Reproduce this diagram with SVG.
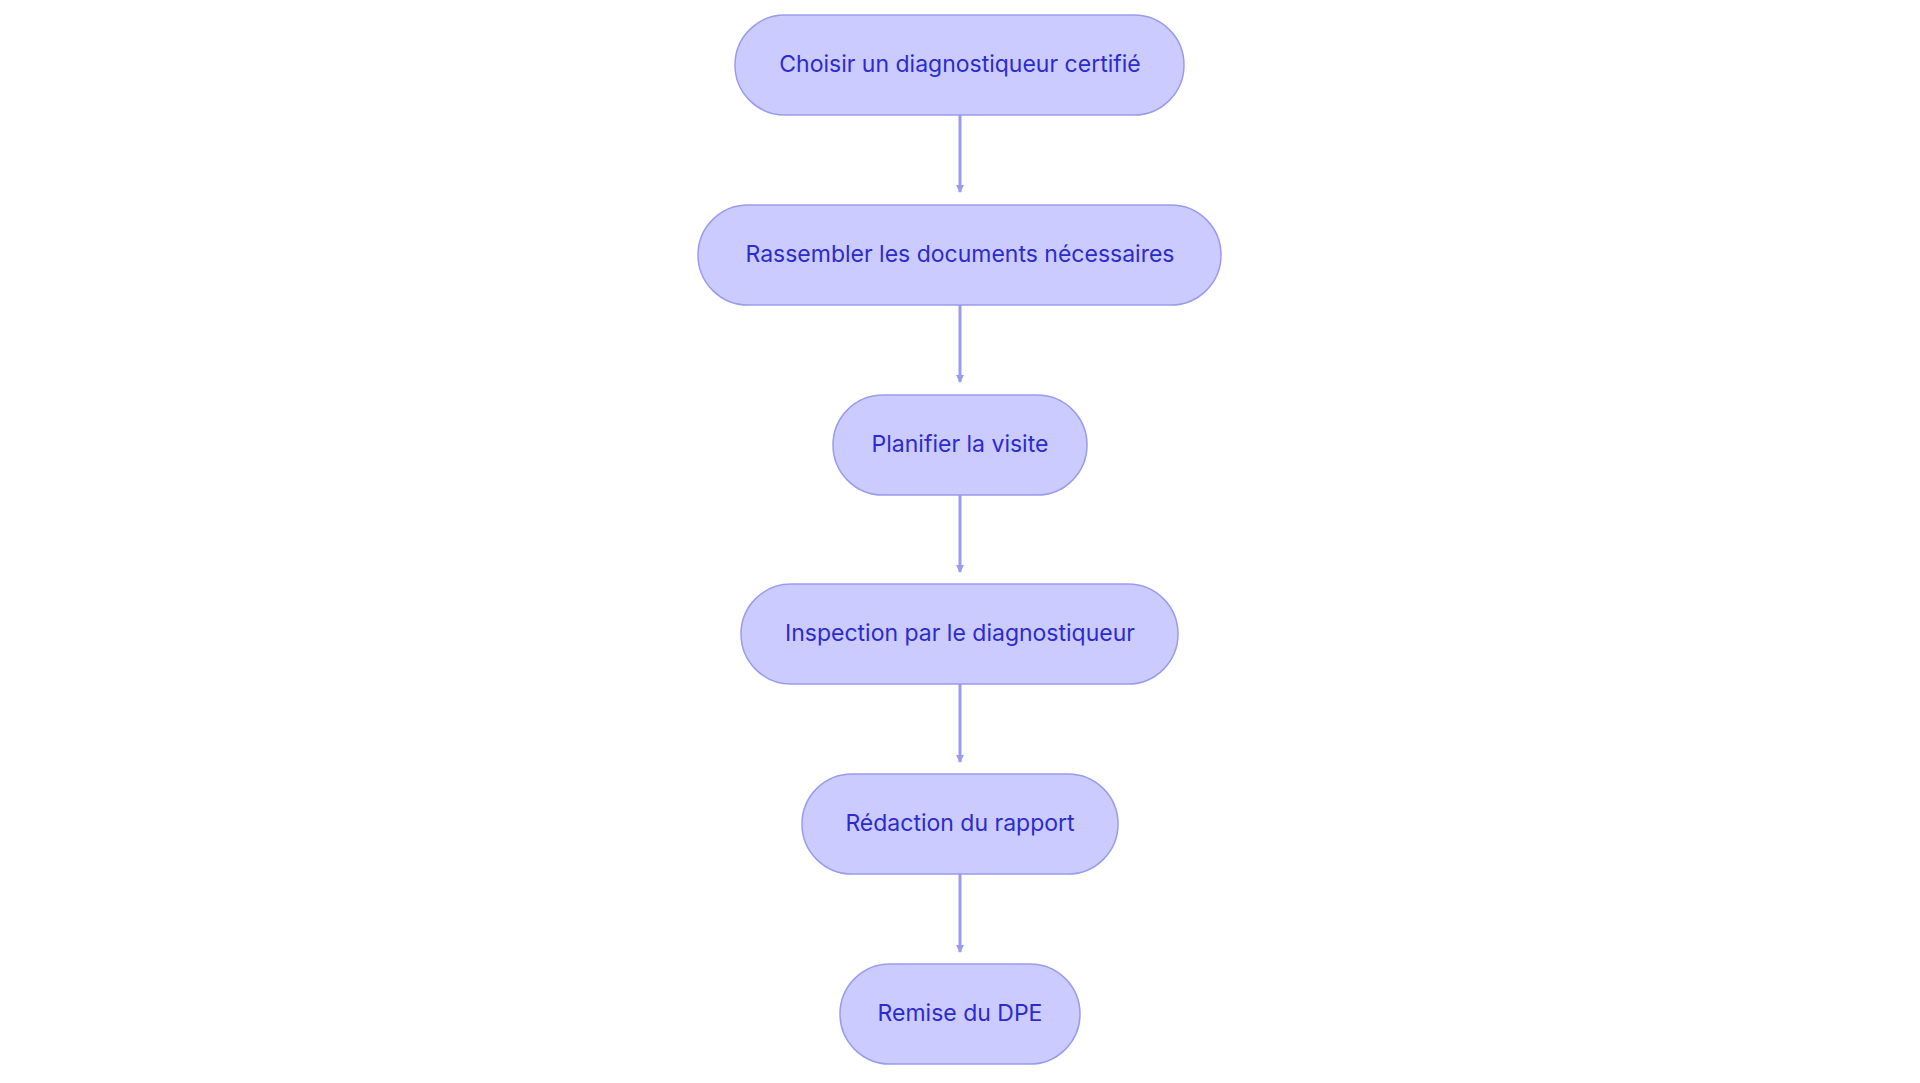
<svg xmlns="http://www.w3.org/2000/svg" width="1920" height="1083" viewBox="0 0 1920 1083">
<style>
.n rect{fill:#cbcbff;stroke:#9b9bee;stroke-width:1.5}
.n text{font-family:Inter,"Noto Sans",sans-serif;font-size:23px;fill:#2b2bcf;text-anchor:middle;dominant-baseline:central}
.e line{stroke:#9b9bee;stroke-width:3;marker-end:url(#a)}
</style>
<defs><marker id="a" markerWidth="8" markerHeight="8" refX="7" refY="4" orient="auto" markerUnits="userSpaceOnUse" viewBox="0 0 8 8"><path d="M0,0L8,4L0,8z" fill="#9b9bee"/></marker></defs>
<rect width="1920" height="1083" fill="#fff"/>
<g class="e">
<line x1="960" y1="115" x2="960" y2="192" transform=""/>
</g>
<g class="e">
<path d="M0 0"/>
</g>
<g id="edges">
<g class="e">
<line x1="960" y1="305" x2="960" y2="382"/>
<line x1="960" y1="495" x2="960" y2="572"/>
<line x1="960" y1="684" x2="960" y2="762"/>
<line x1="960" y1="874" x2="960" y2="952"/>
</g>
</g>
<g id="n1" class="n"><rect x="735" y="15" width="449" height="100" rx="50"/><text x="960" y="64">Choisir un diagnostiqueur certifié</text></g>
<g id="n2" class="n"><rect x="698" y="205" width="523" height="100" rx="50"/><text x="960" y="254">Rassembler les documents nécessaires</text></g>
<g id="n3" class="n"><rect x="833" y="395" width="254" height="100" rx="50"/><text x="960" y="444">Planifier la visite</text></g>
<g id="n4" class="n"><rect x="741" y="584" width="437" height="100" rx="50"/><text x="960" y="633">Inspection par le diagnostiqueur</text></g>
<g id="n5" class="n"><rect x="802" y="774" width="316" height="100" rx="50"/><text x="960" y="823">Rédaction du rapport</text></g>
<g id="n6" class="n"><rect x="840" y="964" width="240" height="100" rx="50"/><text x="960" y="1013">Remise du DPE</text></g>
</svg>
